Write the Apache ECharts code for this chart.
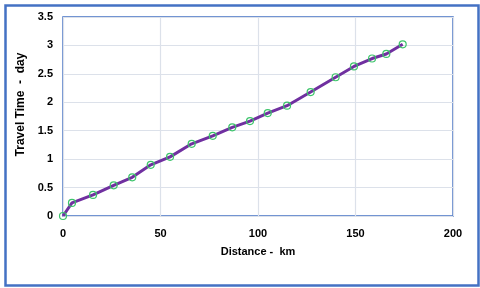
<!DOCTYPE html>
<html>
<head>
<meta charset="utf-8">
<style>html,body{margin:0;padding:0;background:#fff;}#c{width:480px;height:288px;}</style>
<script src="https://cdn.jsdelivr.net/npm/echarts@6/dist/echarts.min.js"></script>
</head>
<body>
<div id="c"></div>
<script>
const distanceKm = [0, 4.6, 15.4, 26, 35.5, 45, 54.9, 66, 76.8, 86.8, 95.9, 105, 114.9, 127, 139.8, 149.2, 158.5, 165.8, 174.2];
const travelDays = [0, 0.23, 0.37, 0.54, 0.68, 0.90, 1.04, 1.27, 1.41, 1.56, 1.67, 1.81, 1.94, 2.18, 2.44, 2.63, 2.77, 2.85, 3.02];
const xTitle = 'Distance -  km';
const yTitle = 'Travel Time  -  day';

const chart = echarts.init(document.getElementById('c'), null, {renderer: 'canvas'});
const font = '"Liberation Sans", Arial, sans-serif';
chart.setOption({
  animation: false,
  backgroundColor: '#fff',
  graphic: [{
    type: 'rect', left: 3, top: 3, z: 100, silent: true,
    shape: {width: 473, height: 280},
    style: {fill: 'none', stroke: '#4472C4', lineWidth: 2.5}
  }],
  grid: {left: 63, right: 27, top: 17, bottom: 72, show: true, borderColor: '#4472C4', borderWidth: 1.5, backgroundColor: 'transparent'},
  xAxis: {
    type: 'value', min: 0, max: 200, interval: 50,
    name: xTitle, nameLocation: 'middle', nameGap: 30,
    nameTextStyle: {fontFamily: font, fontWeight: 'bold', fontSize: 11, color: '#000'},
    axisLine: {show: false}, axisTick: {show: false},
    axisLabel: {fontFamily: font, fontWeight: 'bold', fontSize: 11, color: '#000', margin: 12},
    splitLine: {show: true, lineStyle: {color: '#DCE1EA', width: 1.2}}
  },
  yAxis: {
    type: 'value', min: 0, max: 3.5, interval: 0.5,
    name: yTitle, nameLocation: 'middle', nameGap: 32, nameRotate: 90,
    nameTextStyle: {fontFamily: font, fontWeight: 'bold', fontSize: 12, color: '#000', padding: [0, 0, 0, 24]},
    axisLine: {show: false}, axisTick: {show: false},
    axisLabel: {fontFamily: font, fontWeight: 'bold', fontSize: 11, color: '#000', margin: 10},
    splitLine: {show: true, lineStyle: {color: '#DCE1EA', width: 1.2}}
  },
  series: [{
    type: 'line',
    data: distanceKm.map((d, i) => [d, travelDays[i]]),
    lineStyle: {color: '#7030A0', width: 3},
    symbol: 'circle', symbolSize: 7,
    itemStyle: {color: 'rgba(0,0,0,0)', borderColor: '#3CC46A', borderWidth: 1.2},
    z: 3
  }]
});
</script>
</body>
</html>
